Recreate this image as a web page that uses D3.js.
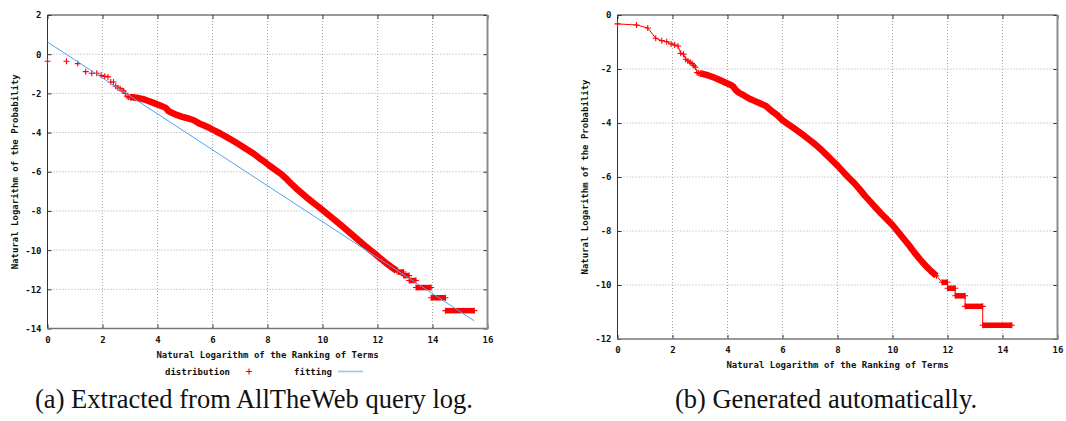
<!DOCTYPE html>
<html>
<head>
<meta charset="utf-8">
<script src="https://cdn.jsdelivr.net/npm/d3@7"></script>
<style>
  body { margin: 0; background: #fff; }
  .tick text, .lbl { font-family: "DejaVu Sans Mono", monospace; font-weight: bold; font-size: 9px; fill: #111; }
  .cap { font-family: "Liberation Serif", serif; font-size: 26.5px; fill: #111; }
</style>
</head>
<body>
<div id="chart"></div>
<script>
// ticks
const xTicks = [0, 2, 4, 6, 8, 10, 12, 14, 16];
const yTicksA = [2, 0, -2, -4, -6, -8, -10, -12, -14];
const yTicksB = [0, -2, -4, -6, -8, -10, -12];

// ln(rank) of the first terms (same for both panels)
const headRank = [0, 0.69, 1.10, 1.39, 1.61, 1.79, 1.95, 2.08, 2.20, 2.30, 2.40, 2.48, 2.56, 2.64, 2.71, 2.77, 2.83, 2.89, 2.94, 3.00];

// (a) AllTheWeb distribution
const headProbA = [-0.36, -0.36, -0.48, -0.89, -0.97, -0.97, -1.08, -1.13, -1.16, -1.42, -1.42, -1.63, -1.72, -1.75, -1.84, -1.88, -2.00, -2.15, -2.18, -2.20];
const rankA = [3.1, 3.3, 3.5, 3.7, 3.9, 4.1, 4.3, 4.4, 4.5, 4.7, 4.9, 5.1, 5.3, 5.5, 5.7, 5.9, 6.1, 6.3, 6.5, 6.7, 6.9, 7.1, 7.3, 7.5, 7.7, 7.9, 8.1, 8.3, 8.5, 8.7, 8.9, 9.1, 9.3, 9.5, 9.7, 9.9, 10.1, 10.3, 10.5, 10.7, 10.9, 11.1, 11.3, 11.5, 11.7, 11.9, 12.1, 12.3, 12.5, 12.7];
const probA = [-2.20, -2.24, -2.30, -2.40, -2.51, -2.62, -2.74, -2.90, -2.98, -3.10, -3.20, -3.27, -3.36, -3.52, -3.64, -3.77, -3.92, -4.06, -4.22, -4.38, -4.55, -4.72, -4.90, -5.08, -5.30, -5.50, -5.72, -5.92, -6.12, -6.38, -6.66, -6.92, -7.16, -7.40, -7.62, -7.84, -8.07, -8.30, -8.53, -8.76, -9.00, -9.24, -9.48, -9.72, -9.95, -10.17, -10.42, -10.65, -10.86, -11.05];
const stairFromA = [12.75, 12.95, 13.15, 13.40, 13.95, 14.47];
const stairToA = [12.95, 13.15, 13.40, 13.95, 14.47, 15.52];
const stairProbA = [-11.12, -11.30, -11.55, -11.91, -12.43, -13.09];

// (a) fitting line
const fitRank = [0, 15.52];
const fitProb = [0.62, -13.61];

// (b) generated distribution
const headProbB = [-0.33, -0.37, -0.48, -0.86, -0.95, -0.99, -1.07, -1.11, -1.15, -1.42, -1.45, -1.64, -1.70, -1.75, -1.80, -1.87, -1.93, -2.13, -2.15, -2.17];
const rankB = [3.1, 3.3, 3.5, 3.7, 3.9, 4.1, 4.2, 4.3, 4.4, 4.6, 4.8, 5.0, 5.2, 5.4, 5.6, 5.8, 6.0, 6.2, 6.4, 6.6, 6.8, 7.0, 7.2, 7.4, 7.6, 7.8, 8.0, 8.2, 8.4, 8.6, 8.8, 9.0, 9.2, 9.4, 9.6, 9.8, 10.0, 10.2, 10.4, 10.6, 10.8, 11.0, 11.2, 11.4, 11.6];
const probB = [-2.18, -2.24, -2.31, -2.40, -2.49, -2.58, -2.64, -2.78, -2.87, -2.98, -3.10, -3.19, -3.28, -3.37, -3.55, -3.70, -3.90, -4.04, -4.18, -4.33, -4.48, -4.64, -4.80, -4.98, -5.18, -5.38, -5.58, -5.80, -6.02, -6.22, -6.45, -6.70, -6.92, -7.15, -7.37, -7.57, -7.78, -8.03, -8.28, -8.53, -8.80, -9.05, -9.28, -9.48, -9.66];
const stairFromB = [11.80, 12.00, 12.28, 12.64, 13.28];
const stairToB = [12.00, 12.28, 12.64, 13.28, 14.34];
const stairProbB = [-9.90, -10.12, -10.40, -10.79, -11.49];

const RED = "#ff0000";
const BLUE = "#4fa3f7";

const svg = d3.select("#chart").append("svg")
    .attr("width", 1066)
    .attr("height", 421);

const plus = "M-3,0H3M0,-3V3";

function drawPanel(p) {
    const g = svg.append("g");
    const x = d3.scaleLinear().domain([0, 16]).range([p.left, p.right]);
    const y = d3.scaleLinear().domain(p.yDomain).range([p.bottom, p.top]);

    // grid punteado
    g.append("g").selectAll("line")
        .data(xTicks.slice(1, -1))
        .enter().append("line")
        .attr("x1", d => x(d)).attr("x2", d => x(d))
        .attr("y1", p.top).attr("y2", p.bottom)
        .attr("stroke", "#a8a8a8").attr("stroke-dasharray", "1,2");
    g.append("g").selectAll("line")
        .data(p.yTicks.slice(1, -1))
        .enter().append("line")
        .attr("y1", d => y(d)).attr("y2", d => y(d))
        .attr("x1", p.left).attr("x2", p.right)
        .attr("stroke", "#a8a8a8").attr("stroke-dasharray", "1,2");

    // ejes
    const fmt = d => String(d);
    g.append("g").attr("transform", `translate(${p.left},0)`)
        .call(d3.axisLeft(y).tickValues(p.yTicks).tickSize(-4).tickPadding(6).tickFormat(fmt));
    g.append("g").attr("transform", `translate(0,${p.bottom})`)
        .call(d3.axisBottom(x).tickValues(xTicks).tickSize(-4).tickPadding(8).tickFormat(fmt));
    g.append("g").attr("transform", `translate(0,${p.top})`)
        .call(d3.axisTop(x).tickValues(xTicks).tickSize(-4).tickFormat(""));
    g.append("g").attr("transform", `translate(${p.right},0)`)
        .call(d3.axisRight(y).tickValues(p.yTicks).tickSize(-4).tickFormat(""));
    g.selectAll(".domain").remove();
    g.selectAll(".tick line").attr("stroke", "#333");

    // marco
    g.append("line").attr("x1", p.left).attr("x2", p.right).attr("y1", p.top).attr("y2", p.top).attr("stroke", "#333");
    g.append("line").attr("x1", p.left).attr("x2", p.left).attr("y1", p.top).attr("y2", p.bottom).attr("stroke", "#333");
    g.append("line").attr("x1", p.left).attr("x2", p.right + 1).attr("y1", p.bottom).attr("y2", p.bottom).attr("stroke", "#777").attr("stroke-width", 1.6);
    g.append("line").attr("x1", p.right).attr("x2", p.right).attr("y1", p.top).attr("y2", p.bottom).attr("stroke", "#8c8c8c").attr("stroke-width", 2);

    // titulos
    g.append("text").attr("class", "lbl")
        .attr("x", (p.left + p.right) / 2).attr("y", p.bottom + 29)
        .attr("text-anchor", "middle")
        .text("Natural Logarithm of the Ranking of Terms");
    g.append("text").attr("class", "lbl")
        .attr("transform", `translate(${p.ylabX},${(p.top + p.bottom) / 2}) rotate(-90)`)
        .attr("text-anchor", "middle")
        .text("Natural Logarithm of the Probability");

    const head = p.headProb.map((v, i) => [headRank[i], v]);
    const dense = p.rank.map((v, i) => [v, p.prob[i]]);
    const stairs = p.stairFrom.map((v, i) => ({ x0: v, x1: p.stairTo[i], y: p.stairProb[i] }));

    const line = d3.line().x(d => x(d[0])).y(d => y(d[1]));

    // linea fina que une los puntos (solo en b)
    if (p.connect) {
        const all = head.concat(dense);
        stairs.forEach(s => { all.push([s.x0, s.y]); all.push([s.x1, s.y]); });
        g.append("path").attr("d", line(all))
            .attr("fill", "none").attr("stroke", RED).attr("stroke-width", 1);
    }

    // banda densa de puntos
    g.append("path").attr("d", line([head[head.length - 1]].concat(dense)))
        .attr("fill", "none").attr("stroke", RED)
        .attr("stroke-width", 6.5).attr("stroke-linejoin", "round");
    g.append("g").selectAll("line")
        .data(stairs).enter().append("line")
        .attr("x1", d => x(d.x0)).attr("x2", d => x(d.x1))
        .attr("y1", d => y(d.y)).attr("y2", d => y(d.y))
        .attr("stroke", RED).attr("stroke-width", 5.5);

    // marcadores +
    const marks = head.concat(dense);
    stairs.forEach(s => { marks.push([s.x0, s.y]); marks.push([s.x1, s.y]); });
    g.append("g").selectAll("path")
        .data(marks).enter().append("path")
        .attr("d", plus)
        .attr("transform", d => `translate(${x(d[0])},${y(d[1])})`)
        .attr("stroke", RED).attr("stroke-width", 1.1).attr("fill", "none");

    return { g, x, y, line };
}

// Panel (a)
const a = drawPanel({
    left: 47.5, right: 487.5, top: 15, bottom: 328.5,
    yDomain: [-14, 2], yTicks: yTicksA, ylabX: 18,
    headProb: headProbA, rank: rankA, prob: probA,
    stairFrom: stairFromA, stairTo: stairToA, stairProb: stairProbA,
    connect: false
});
a.g.append("path")
    .attr("d", a.line(fitRank.map((v, i) => [v, fitProb[i]])))
    .attr("fill", "none").attr("stroke", BLUE).attr("stroke-width", 1);

// leyenda
const leg = svg.append("g").attr("transform", "translate(0,371.5)");
leg.append("text").attr("class", "lbl").attr("x", 230).attr("dy", "0.35em")
    .attr("text-anchor", "end").text("distribution");
leg.append("path").attr("d", plus).attr("transform", "translate(249,0)")
    .attr("stroke", RED).attr("stroke-width", 1.1);
leg.append("text").attr("class", "lbl").attr("x", 332).attr("dy", "0.35em")
    .attr("text-anchor", "end").text("fitting");
leg.append("line").attr("x1", 338).attr("x2", 363)
    .attr("stroke", BLUE).attr("stroke-opacity", 0.6).attr("stroke-width", 1.6);

// Panel (b)
drawPanel({
    left: 617.5, right: 1057.5, top: 15, bottom: 339,
    yDomain: [-12, 0], yTicks: yTicksB, ylabX: 588,
    headProb: headProbB, rank: rankB, prob: probB,
    stairFrom: stairFromB, stairTo: stairToB, stairProb: stairProbB,
    connect: true
});

// subtitulos
svg.append("text").attr("class", "cap")
    .attr("x", 254).attr("y", 408).attr("text-anchor", "middle")
    .text("(a) Extracted from AllTheWeb query log.");
svg.append("text").attr("class", "cap")
    .attr("x", 826).attr("y", 408).attr("text-anchor", "middle")
    .text("(b) Generated automatically.");
</script>
</body>
</html>
